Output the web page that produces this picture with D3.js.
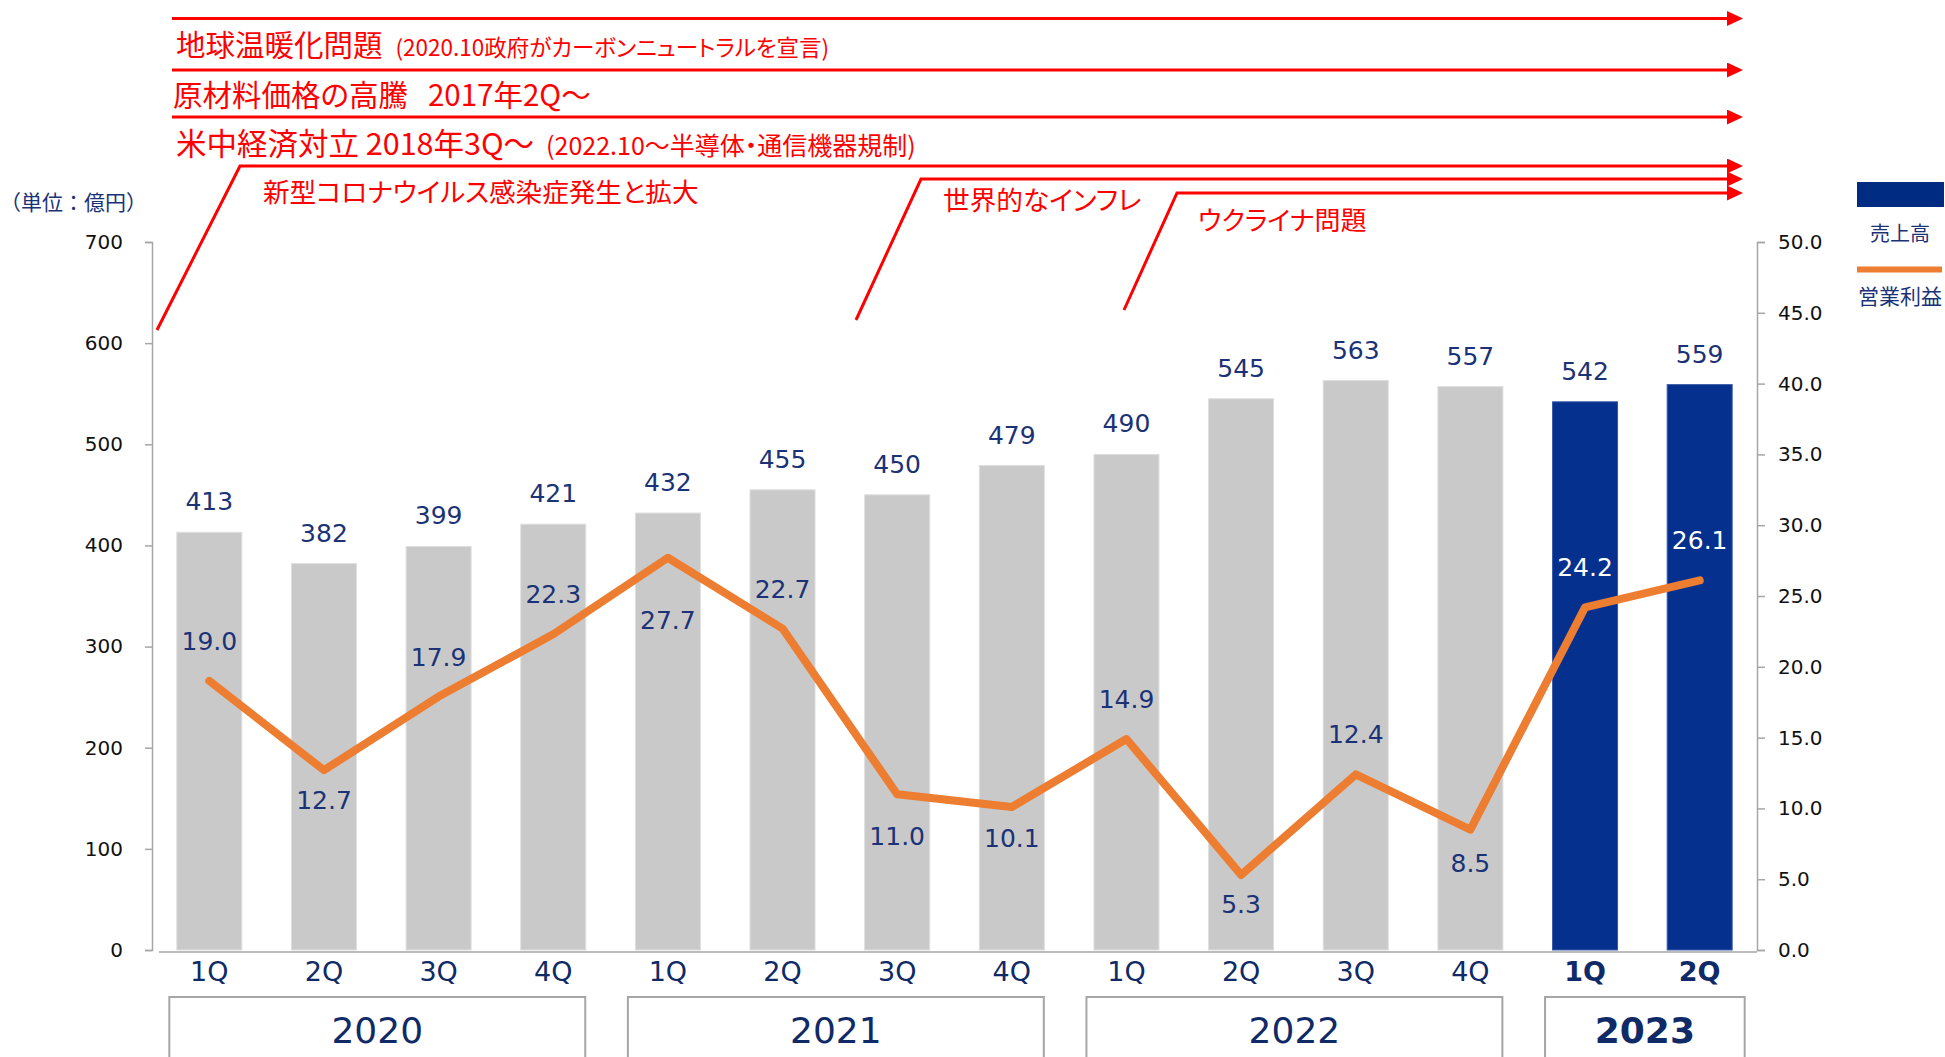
<!DOCTYPE html>
<html>
<head>
<meta charset="utf-8">
<script src="https://cdn.jsdelivr.net/npm/d3@7"></script>
<style>
  body { margin: 0; background: #fff; }
  .jp { font-family: "Noto Sans CJK JP", sans-serif; font-feature-settings: "palt"; }
  .jpw { font-family: "Noto Sans CJK JP", sans-serif; }
</style>
</head>
<body>
<div id="chart"></div>
<script>
"use strict"

/* data */
let quarters = ["1Q", "2Q", "3Q", "4Q", "1Q", "2Q", "3Q", "4Q", "1Q", "2Q", "3Q", "4Q", "1Q", "2Q"];
let sales = [413, 382, 399, 421, 432, 455, 450, 479, 490, 545, 563, 557, 542, 559];
let profit = [19.0, 12.7, 17.9, 22.3, 27.7, 22.7, 11.0, 10.1, 14.9, 5.3, 12.4, 8.5, 24.2, 26.1];
let years = ["2020", "2021", "2022", "2023"];
let yearCounts = [4, 4, 4, 2];
let leftTicks = [0, 100, 200, 300, 400, 500, 600, 700];
let rightTicks = [0, 5, 10, 15, 20, 25, 30, 35, 40, 45, 50];

let svgWidth = 1945;
let svgHeight = 1057;
let plotLeft = 152, plotRight = 1757, plotTop = 242, plotBottom = 950;

let navy = "#1b3276";
let grey = "#c9c9c9";
let blue = "#06308e";
let orange = "#ed7d31";
let axisGrey = "#a6a6a6";

let svg = d3.select("#chart")
    .append("svg")
    .attr("width", svgWidth)
    .attr("height", svgHeight)
    .attr("font-family", "'DejaVu Sans', Verdana, sans-serif");

/* scales */
let xScale = d3.scaleBand()
    .domain(d3.range(sales.length))
    .range([plotLeft, plotRight])
    .paddingInner(0.433)
    .paddingOuter(0.2165);

let ySales = d3.scaleLinear().domain([0, 700]).range([plotBottom, plotTop]);
let yProfit = d3.scaleLinear().domain([0, 50]).range([plotBottom, plotTop]);

let cx = i => xScale(i) + xScale.bandwidth() / 2;

/* axes */
let leftAxis = svg.append("g")
    .attr("transform", `translate(${plotLeft},0)`)
    .call(d3.axisLeft(ySales).tickValues(leftTicks).tickSize(7).tickPadding(22).tickFormat(d3.format("d")));

let rightAxis = svg.append("g")
    .attr("transform", `translate(${plotRight},0)`)
    .call(d3.axisRight(yProfit).tickValues(rightTicks).tickSize(8).tickPadding(13).tickFormat(d3.format(".1f")));

[leftAxis, rightAxis].forEach(function(g) {
    g.attr("font-size", 20).attr("font-family", "'DejaVu Sans', Verdana, sans-serif");
    g.selectAll("path, line").attr("stroke", axisGrey).attr("stroke-width", 1.5);
    g.selectAll("text").attr("fill", "#111");
});

svg.append("line")
    .attr("x1", plotLeft + 7).attr("x2", plotRight)
    .attr("y1", plotBottom + 2).attr("y2", plotBottom + 2)
    .attr("stroke", axisGrey).attr("stroke-width", 1.5);

/* bars */
svg.selectAll("rect.bar")
    .data(sales)
    .join("rect")
    .attr("class", "bar")
    .attr("x", (d, i) => xScale(i))
    .attr("y", d => ySales(d))
    .attr("width", xScale.bandwidth())
    .attr("height", d => plotBottom - ySales(d))
    .attr("fill", (d, i) => i >= 12 ? blue : grey)
    .attr("stroke", (d, i) => i >= 12 ? "#3a5aa8" : "#dedede")
    .attr("stroke-width", 1);

svg.selectAll("text.salesLabel")
    .data(sales)
    .join("text")
    .attr("class", "salesLabel")
    .attr("x", (d, i) => cx(i))
    .attr("y", d => ySales(d) - 22)
    .attr("text-anchor", "middle")
    .attr("font-size", 25)
    .attr("fill", navy)
    .text(d => d);

/* profit line */
let line = d3.line()
    .x((d, i) => cx(i))
    .y(d => yProfit(d));

svg.append("path")
    .datum(profit)
    .attr("d", line)
    .attr("fill", "none")
    .attr("stroke", orange)
    .attr("stroke-width", 8)
    .attr("stroke-linecap", "round")
    .attr("stroke-linejoin", "round");

// label shift from the point, above (-) or below (+)
let labelShift = [-31, 39, -31, -31, 71, -31, 51, 40, -31, 38, -31, 42, -31, -31];

svg.selectAll("text.profitLabel")
    .data(profit)
    .join("text")
    .attr("class", "profitLabel")
    .attr("x", (d, i) => cx(i))
    .attr("y", (d, i) => yProfit(d) + labelShift[i])
    .attr("text-anchor", "middle")
    .attr("font-size", 25)
    .attr("fill", (d, i) => i >= 12 ? "#fff" : navy)
    .text(d => d3.format(".1f")(d));

/* quarter labels */
svg.selectAll("text.quarter")
    .data(quarters)
    .join("text")
    .attr("class", "quarter")
    .attr("x", (d, i) => cx(i))
    .attr("y", 981)
    .attr("text-anchor", "middle")
    .attr("font-size", 27)
    .attr("font-weight", (d, i) => i >= 12 ? "bold" : "normal")
    .attr("fill", "#0f2a66")
    .text(d => d);

/* year boxes */
let start = 0;
years.forEach(function(year, k) {
    let last = start + yearCounts[k] - 1;
    let x0 = cx(start) - 40;
    let x1 = cx(last) + (k === years.length - 1 ? 45 : 32);
    svg.append("path")
        .attr("d", `M${x0},${svgHeight + 5} V997 H${x1} V${svgHeight + 5}`)
        .attr("fill", "none")
        .attr("stroke", axisGrey)
        .attr("stroke-width", 2);
    svg.append("text")
        .attr("x", (x0 + x1) / 2)
        .attr("y", 1043)
        .attr("text-anchor", "middle")
        .attr("font-size", 36)
        .attr("font-weight", k === years.length - 1 ? "bold" : "normal")
        .attr("fill", "#0f2a66")
        .text(year);
    start = last + 1;
});

/* unit */
svg.append("text")
    .attr("class", "jpw")
    .attr("x", 0)
    .attr("y", 210)
    .attr("font-size", 21)
    .attr("fill", navy)
    .text("（単位：億円）");

/* legend */
svg.append("rect")
    .attr("x", 1857).attr("y", 182)
    .attr("width", 87).attr("height", 25)
    .attr("fill", "#002b82");
svg.append("text")
    .attr("class", "jp")
    .attr("x", 1900).attr("y", 241)
    .attr("text-anchor", "middle")
    .attr("font-size", 20)
    .attr("fill", navy)
    .text("売上高");
svg.append("line")
    .attr("x1", 1857).attr("x2", 1942)
    .attr("y1", 269.5).attr("y2", 269.5)
    .attr("stroke", orange).attr("stroke-width", 6);
svg.append("text")
    .attr("class", "jp")
    .attr("x", 1900).attr("y", 304)
    .attr("text-anchor", "middle")
    .attr("font-size", 21)
    .attr("fill", navy)
    .text("営業利益");

/* red event arrows */
let red = "#ff0000";
svg.append("defs").append("marker")
    .attr("id", "arrow")
    .attr("markerUnits", "userSpaceOnUse")
    .attr("markerWidth", 16).attr("markerHeight", 16)
    .attr("refX", 1).attr("refY", 7.5)
    .attr("orient", "auto")
    .append("path")
    .attr("d", "M0,0 L16,7.5 L0,15 Z")
    .attr("fill", red);

let arrowEnd = 1728;
let arrows = [
    "M172,18.5 H" + arrowEnd,
    "M172,70 H" + arrowEnd,
    "M172,117 H" + arrowEnd,
    "M157,330 L240,166 H" + arrowEnd,
    "M856,320 L921,179 H" + arrowEnd,
    "M1124,310 L1177,193 H" + arrowEnd
];
arrows.forEach(function(d) {
    svg.append("path")
        .attr("d", d)
        .attr("fill", "none")
        .attr("stroke", red)
        .attr("stroke-width", 3)
        .attr("marker-end", "url(#arrow)");
});

function eventText(x, y, size, main, sub, gap) {
    let t = svg.append("text")
        .attr("class", "jp")
        .attr("x", x).attr("y", y)
        .attr("font-size", size)
        .attr("fill", red);
    t.append("tspan").text(main);
    if (sub) {
        t.append("tspan").attr("dx", gap).attr("font-size", sub.size).text(sub.text);
    }
}

eventText(176, 56, 29.5, "地球温暖化問題", {text: "(2020.10政府がカーボンニュートラルを宣言)", size: 22.5}, 13);
eventText(173, 106, 29.5, "原材料価格の高騰", {text: "2017年2Q～", size: 29.5}, 20);
eventText(176, 155, 30.5, "米中経済対立 2018年3Q～", {text: "(2022.10～半導体・通信機器規制)", size: 25}, 12);
eventText(263, 202, 26.6, "新型コロナウイルス感染症発生と拡大");
eventText(943, 210, 26.7, "世界的なインフレ");
eventText(1198, 230, 26, "ウクライナ問題");
</script>
</body>
</html>
